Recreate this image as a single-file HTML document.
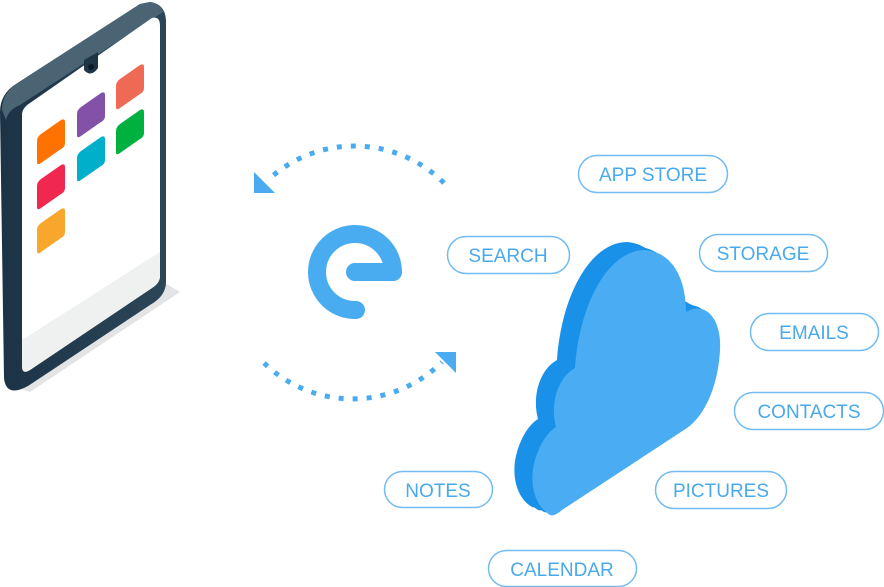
<!DOCTYPE html>
<html><head><meta charset="utf-8"><style>
html,body{margin:0;padding:0;background:#fff;}
svg{display:block}
text{font-family:"Liberation Sans",sans-serif;font-size:19px;fill:#4aa9ec;text-anchor:middle;}
</style></head><body>
<svg width="884" height="587" viewBox="0 0 884 587" xmlns="http://www.w3.org/2000/svg">
<defs>
<linearGradient id="body" x1="0" y1="0" x2="1" y2="0">
<stop offset="0" stop-color="#1c3346"/><stop offset="1" stop-color="#2c4658"/>
</linearGradient>
</defs>
<!-- tablet shadow -->
<polygon points="160,280 180,292 30,392 10,385" fill="#d6d9dc" opacity="0.7"/>
<!-- tablet body -->
<path d="M150,2 Q165,4 166,20 L166,282 Q166,296 150,305 L28,386 Q6,398 4,378 L0,112 Q0,94 16,84 L140,4 Z" fill="url(#body)"/>
<path d="M150,2 Q160,3 163,12 L20,105 Q8,110 6,120 L2,110 Q2,94 16,84 L140,4 Z" fill="#4b6473"/>
<!-- screen -->
<path d="M152,18 Q160,16 160,26 L160,276 Q160,283 152,288 L30,370 Q22,375 22,366 L22,115 Q22,108 30,103 Z" fill="#ffffff"/>
<path d="M160,252 L160,276 Q160,283 152,288 L30,370 Q22,375 22,366 L22,340 Z" fill="#eff0f0"/>
<!-- notch -->
<path d="M84,60 L98,52 L98,68 Q91,78 84,70 Z" fill="#1f3447"/>
<circle cx="91" cy="67" r="3" fill="#0d1b26"/>
<!-- icons -->
<g>
<path d="M37,141 Q37,137 41,134 L61,120 Q65,118 65,122 L65,143 Q65,147 61,149 L41,163 Q37,166 37,162 Z" fill="#ff7200"/>
<path d="M37,186 Q37,182 41,179 L61,165 Q65,163 65,167 L65,188 Q65,192 61,194 L41,208 Q37,211 37,207 Z" fill="#f0274e"/>
<path d="M37,230 Q37,226 41,223 L61,209 Q65,207 65,211 L65,232 Q65,236 61,238 L41,252 Q37,255 37,251 Z" fill="#f8a72c"/>
<path d="M77,114 Q77,110 81,107 L101,93 Q105,91 105,95 L105,116 Q105,120 101,122 L81,136 Q77,139 77,135 Z" fill="#8451a8"/>
<path d="M77,158 Q77,154 81,151 L101,137 Q105,135 105,139 L105,160 Q105,164 101,166 L81,180 Q77,183 77,179 Z" fill="#00afc9"/>
<path d="M116,86 Q116,82 120,79 L140,65 Q144,63 144,67 L144,88 Q144,92 140,94 L120,108 Q116,111 116,107 Z" fill="#ee6a55"/>
<path d="M116,131 Q116,127 120,124 L140,110 Q144,108 144,112 L144,133 Q144,137 140,139 L120,153 Q116,156 116,152 Z" fill="#00b140"/>
</g>
<!-- dotted arcs -->
<path d="M444,183 A127,127 0 0 0 268,180" fill="none" stroke="#4aabf0" stroke-width="5" stroke-dasharray="5,9"/>
<polygon points="254,172 254,193 275,193" fill="#4aabf0"/>
<path d="M264,363 A127,127 0 0 0 442,362" fill="none" stroke="#4aabf0" stroke-width="5" stroke-dasharray="5,9"/>
<polygon points="435,352 456,352 456,373" fill="#4aabf0"/>
<!-- e logo -->
<path d="M393,272 A38,38 0 1 0 356,310" fill="none" stroke="#4aacf0" stroke-width="18" stroke-linecap="round"/>
<line x1="355" y1="272" x2="393" y2="272" stroke="#4aacf0" stroke-width="18" stroke-linecap="round"/>
<!-- cloud -->
<g transform="translate(-18,-8)" fill="#1a91e8">
<path id="cl" d="M550,515 C533,505 529,480 535,460 C540,443 548,432 556,427 C550,405 557,378 575,368 C580,300 610,250 645,250 C672,252 686,278 686,312 C706,300 722,320 720,350 C718,390 702,418 687,428 L562,510 C556,515 553,516 550,515 Z"/>
</g>
<g fill="#1a91e8">
<path transform="translate(-12,-5)" d="M550,515 C533,505 529,480 535,460 C540,443 548,432 556,427 C550,405 557,378 575,368 C580,300 610,250 645,250 C672,252 686,278 686,312 C706,300 722,320 720,350 C718,390 702,418 687,428 L562,510 C556,515 553,516 550,515 Z"/>
<path transform="translate(-6,-3)" d="M550,515 C533,505 529,480 535,460 C540,443 548,432 556,427 C550,405 557,378 575,368 C580,300 610,250 645,250 C672,252 686,278 686,312 C706,300 722,320 720,350 C718,390 702,418 687,428 L562,510 C556,515 553,516 550,515 Z"/>
</g>
<path d="M550,515 C533,505 529,480 535,460 C540,443 548,432 556,427 C550,405 557,378 575,368 C580,300 610,250 645,250 C672,252 686,278 686,312 C706,300 722,320 720,350 C718,390 702,418 687,428 L562,510 C556,515 553,516 550,515 Z" fill="#4aacf2"/>
<!-- pills -->
<g fill="none" stroke="#72bcf2" stroke-width="1.5">
<rect x="578.5" y="155.5" width="149" height="37" rx="18.5"/>
<rect x="447.5" y="236.5" width="122" height="37" rx="18.5"/>
<rect x="699.5" y="234.5" width="128" height="37" rx="18.5"/>
<rect x="750.5" y="313.5" width="128" height="37" rx="18.5"/>
<rect x="734.5" y="392.5" width="149" height="37" rx="18.5"/>
<rect x="384.5" y="471.5" width="108" height="36" rx="18"/>
<rect x="655.5" y="471.5" width="131" height="37" rx="18.5"/>
<rect x="488.5" y="550.5" width="148" height="36" rx="18"/>
</g>
<text x="653" y="181">APP STORE</text>
<text x="508" y="262">SEARCH</text>
<text x="763" y="260">STORAGE</text>
<text x="814" y="339">EMAILS</text>
<text x="809" y="418">CONTACTS</text>
<text x="438" y="497">NOTES</text>
<text x="721" y="497">PICTURES</text>
<text x="562" y="576">CALENDAR</text>
</svg>
</body></html>
